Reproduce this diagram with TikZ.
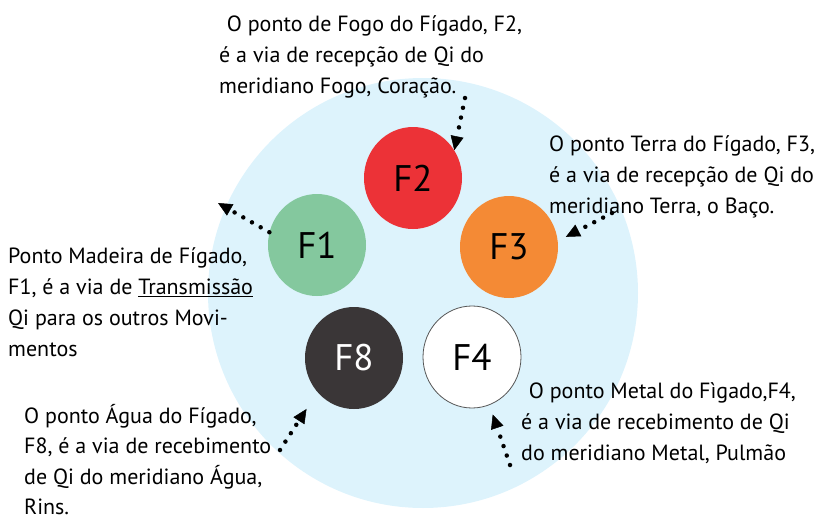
\documentclass[tikz,border=0pt]{standalone}
\usepackage{fontspec}
\setmainfont{PT Sans}
\usepackage{xcolor}
\usetikzlibrary{positioning, shapes.geometric, arrows.meta}

\definecolor{fundo}{HTML}{DDF3FC}
\definecolor{fogo}{HTML}{EC3237}
\definecolor{madeira}{HTML}{84C89E}
\definecolor{terra}{HTML}{F48A35}
\definecolor{agua}{HTML}{3A3637}
\definecolor{borda}{HTML}{555555}

\begin{document}
\begin{tikzpicture}[x=1pt, y=-1pt,
    ponto/.style={ellipse, minimum width=98pt, minimum height=102pt, inner sep=0pt, font=\fontsize{37}{40}\selectfont},
    texto/.style={anchor=north west, align=left, inner sep=0pt, font=\fontsize{22}{31}\selectfont},
    seta/.style={line width=4.5pt, line cap=round, dash pattern=on 0pt off 10pt, -{Triangle[length=14pt, width=13pt, line width=0.5pt]}}]

    \useasboundingbox (0,0) rectangle (831,517);
    \fill[fundo] (423,293) circle[radius=215pt]; % big circle

    % the five points
    \node[ponto, fill=fogo] (F2) at (413,178) {F2};
    \node[ponto, fill=madeira] (F1) at (317,245) {F1};
    \node[ponto, fill=terra] (F3) at (509,247) {F3};
    \node[ponto, fill=agua, text=white] (F8) at (354,358) {F8};
    \node[ponto, fill=white, draw=borda, line width=0.8pt] (F4) at (472,357) {F4};

    % texts
    \node[texto] (tF2) at (219,15) {\hspace{0.35em}O ponto de Fogo do Fígado, F2,\\é a via de recepção de Qi do\\meridiano Fogo, Coração.};
    \node[texto] (tF3) at (549,135) {O ponto Terra do Fígado, F3,\\é a via de recepção de Qi do\\meridiano Terra, o Baço.};
    \node[texto] (tF1) at (8,247) {Ponto Madeira de Fígado,\\F1, é a via de \underline{Transmissão}\\Qi para os outros Movi-\\mentos};
    \node[texto, font=\fontsize{22}{30.5}\selectfont] (tF8) at (24,404) {O ponto Água do Fígado,\\F8, é a via de recebimento\\de Qi do meridiano Água,\\Rins.};
    \node[texto] (tF4) at (521,382) {\hspace{0.35em}O ponto Metal do Fìgado,F4,\\é a via de recebimento de Qi\\do meridiano Metal, Pulmão};

    % arrows
    \coordinate (a2) at (465,98);
    \draw[seta] (a2) -- (F2.34);
    \coordinate (a1) at (218,203);
    \draw[seta] (F1.165) -- (a1);
    \coordinate (a3) at (612,213);
    \draw[seta, shorten >=9pt] (a3) -- (F3.7);
    \coordinate (a8) at (280,450);
    \draw[seta, shorten >=20pt] (a8) -- (F8.223);
    \coordinate (a4) at (510,465);
    \draw[seta, shorten >=10pt] (a4) -- (F4.290);
\end{tikzpicture}
\end{document}
